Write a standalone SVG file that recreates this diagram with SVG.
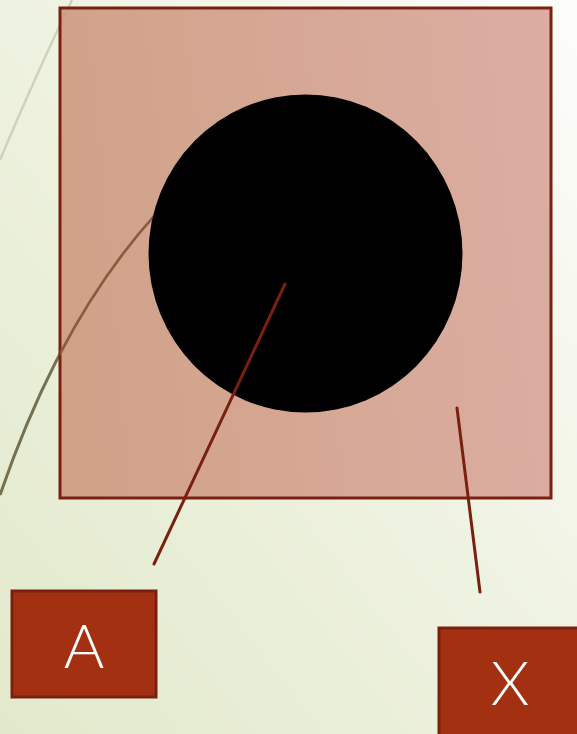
<svg xmlns="http://www.w3.org/2000/svg" width="577" height="734" viewBox="0 0 577 734">
<defs>
<linearGradient id="bg" x1="0" y1="1" x2="1" y2="0">
<stop offset="0" stop-color="#e2e9cb"/>
<stop offset="0.5" stop-color="#eef2e0"/>
<stop offset="1" stop-color="#fdfdfb"/>
</linearGradient>
<linearGradient id="rf" x1="0" y1="0" x2="1" y2="0">
<stop offset="0" stop-color="#cc9479"/>
<stop offset="1" stop-color="#d6a094"/>
</linearGradient>
<clipPath id="rc"><rect x="60" y="8" width="491" height="490"/></clipPath>
<style>
.box{fill:#a33010;stroke:#7a2010;stroke-width:3}
.lbl{font-family:Lato,"Open Sans","Liberation Sans",sans-serif;font-weight:300;font-size:62px;fill:#ffffff;text-anchor:middle}
.conn{stroke:#7a2010;stroke-width:3;fill:none;stroke-linecap:round}
</style>
</defs>
<rect width="577" height="734" fill="url(#bg)"/>
<path d="M72,0 Q38,70 0,160" stroke="#cfd2bc" stroke-width="2.5" fill="none"/>
<path d="M155,215 Q60,320 0,495" stroke="#77704f" stroke-width="3" fill="none"/>
<g id="frame">
<rect x="60" y="8" width="491" height="490" fill="url(#rf)" fill-opacity="0.85" stroke="#7a2010" stroke-width="3"/>
<path d="M155,215 Q60,320 0,495" stroke="#8a5a40" stroke-width="2.5" fill="none" clip-path="url(#rc)"/>
</g>
<g id="circle">
<ellipse cx="305.5" cy="253.5" rx="157" ry="159" fill="#000000"/>
</g>
<g id="connectors">
<line class="conn" x1="285" y1="284" x2="154" y2="564"/>
<line class="conn" x1="457" y1="408" x2="480" y2="592"/>
</g>
<g id="nodeA">
<rect class="box" x="12" y="591" width="144" height="106"/>
<text class="lbl" x="84" y="668">A</text>
</g>
<g id="nodeX">
<rect class="box" x="439" y="628" width="145" height="110"/>
<text class="lbl" x="510" y="705">X</text>
</g>
</svg>
